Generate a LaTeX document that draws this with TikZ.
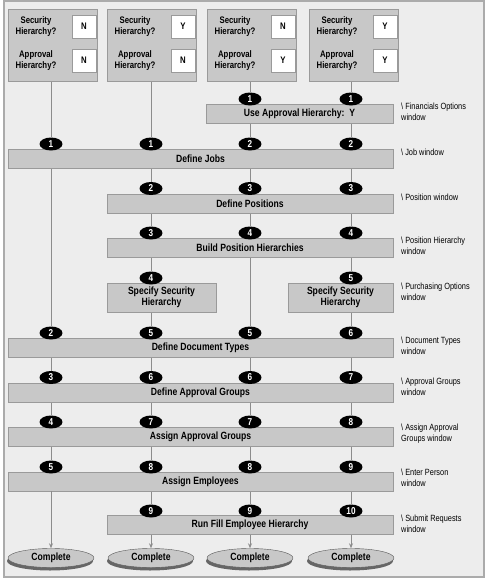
\documentclass[tikz,border=0pt]{standalone}
\usepackage{fontspec}
\setmainfont{Liberation Sans}[FakeStretch=0.82]
\usetikzlibrary{arrows.meta,backgrounds,shadows,shapes.geometric}
\definecolor{panel}{HTML}{EDEDED}
\definecolor{framegray}{HTML}{ABABAB}
\definecolor{boxfill}{HTML}{C8C8C8}
\definecolor{boxline}{HTML}{9A9A9A}
\definecolor{linkgray}{HTML}{8C8C8C}

\begin{document}
\begin{tikzpicture}[x=1pt, y=-1pt,
  qbox/.style={draw=boxline, fill=boxfill, minimum width=89pt, minimum height=72pt, inner sep=0pt},
  ansbox/.style={draw=boxline, fill=white, minimum width=24pt, minimum height=23pt, inner sep=0pt, font=\fontsize{9.5}{11}\selectfont\bfseries},
  qlabel/.style={align=center, inner sep=0pt, font=\fontsize{9.5}{11}\selectfont\bfseries},
  stepbox/.style={draw=boxline, fill=boxfill, minimum height=19pt, inner sep=0pt, align=center, font=\fontsize{10.5}{11.5}\selectfont\bfseries},
  badge/.style={ellipse, fill=black, minimum width=23pt, minimum height=13pt, inner sep=0pt, text=white, font=\fontsize{10}{10}\selectfont\bfseries},
  winlabel/.style={anchor=north west, align=left, inner sep=0pt, font=\fontsize{9}{11}\selectfont},
  done/.style={ellipse, draw=gray!70!black, fill=boxfill, minimum width=86pt, minimum height=19pt, inner sep=0pt,
    font=\fontsize{10.5}{12}\selectfont\bfseries, drop shadow={shadow xshift=-1pt, shadow yshift=-3pt, fill=black!60, opacity=1}},
  link/.style={draw=linkgray, line width=0.7pt}
]
  \useasboundingbox (0,0) rectangle (488,582);
  \begin{scope}[on background layer]
    \draw[framegray, fill=panel, line width=1.2pt] (4,1) rectangle (484,577);
  \end{scope}

  % question boxes
  \foreach \i/\cx/\sa/\aa in {1/53/N/N, 2/152/Y/N, 3/252/N/Y, 4/354/Y/Y}{
    \node[qbox] (q\i) at (\cx,45) {};
    \node[ansbox] (s\i) at (\cx+31,26.5) {\sa};
    \node[ansbox] (a\i) at (\cx+31,60.5) {\aa};
    \node[qlabel] (sl\i) at (\cx-17,26.5) {Security\\Hierarchy?};
    \node[qlabel] (al\i) at (\cx-17,60.5) {Approval\\Hierarchy?};
  }

  % steps
  \node[stepbox, minimum width=187pt] (uah) at (299.5,114) {Use Approval Hierarchy:~~Y};
  \node[stepbox, minimum width=385pt] (dj) at (200.5,159) {Define Jobs};
  \node[stepbox, minimum width=286pt] (dp) at (250,203.5) {Define Positions};
  \node[stepbox, minimum width=286pt] (bph) at (250,247.5) {Build Position Hierarchies};
  \node[stepbox, minimum width=109pt, minimum height=29pt] (ssl) at (161.5,297.5) {Specify Security\\Hierarchy};
  \node[stepbox, minimum width=105pt, minimum height=29pt] (ssr) at (340.5,297.5) {Specify Security\\Hierarchy};
  \node[stepbox, minimum width=385pt] (ddt) at (200.5,348) {Define Document Types};
  \node[stepbox, minimum width=385pt] (dag) at (200.5,392.5) {Define Approval Groups};
  \node[stepbox, minimum width=385pt] (aag) at (200.5,437) {Assign Approval Groups};
  \node[stepbox, minimum width=385pt] (ae) at (200.5,481.5) {Assign Employees};
  \node[stepbox, minimum width=286pt] (rf) at (250,525) {Run Fill Employee Hierarchy};

  % order badges
  \foreach \x/\c/\n in {250/3/1, 351/4/1} \node[badge] (uah\c) at (\x,99) {\n};
  \foreach \x/\c/\n in {51/1/1, 151/2/1, 250/3/2, 351/4/2} \node[badge] (dj\c) at (\x,144) {\n};
  \foreach \x/\c/\n in {151/2/2, 250/3/3, 351/4/3} \node[badge] (dp\c) at (\x,188.5) {\n};
  \foreach \x/\c/\n in {151/2/3, 250/3/4, 351/4/4} \node[badge] (bph\c) at (\x,233) {\n};
  \node[badge] (ssl2) at (151,278) {4};
  \node[badge] (ssr4) at (351,278) {5};
  \foreach \x/\c/\n in {51/1/2, 151/2/5, 250/3/5, 351/4/6} \node[badge] (ddt\c) at (\x,333) {\n};
  \foreach \x/\c/\n in {51/1/3, 151/2/6, 250/3/6, 351/4/7} \node[badge] (dag\c) at (\x,377.5) {\n};
  \foreach \x/\c/\n in {51/1/4, 151/2/7, 250/3/7, 351/4/8} \node[badge] (aag\c) at (\x,422) {\n};
  \foreach \x/\c/\n in {51/1/5, 151/2/8, 250/3/8, 351/4/9} \node[badge] (ae\c) at (\x,467) {\n};
  \foreach \x/\c/\n in {151/2/9, 250/3/9, 351/4/10} \node[badge] (rf\c) at (\x,511) {\n};

  % end states
  \foreach \x/\c in {51/1, 151/2, 250/3, 351/4} \node[done] (c\c) at (\x,558) {Complete};

  % window names
  \node[winlabel] (wuah) at (401,103) {\textbackslash{} Financials Options\\window};
  \node[winlabel] (wdj) at (401,149) {\textbackslash{} Job window};
  \node[winlabel] (wdp) at (401,194) {\textbackslash{} Position window};
  \node[winlabel] (wbph) at (401,237) {\textbackslash{} Position Hierarchy\\window};
  \node[winlabel] (wss) at (401,283) {\textbackslash{} Purchasing Options\\window};
  \node[winlabel] (wddt) at (401,337) {\textbackslash{} Document Types\\window};
  \node[winlabel] (wdag) at (401,378) {\textbackslash{} Approval Groups\\window};
  \node[winlabel] (waag) at (401,424) {\textbackslash{} Assign Approval\\Groups window};
  \node[winlabel] (wae) at (401,469) {\textbackslash{} Enter Person\\window};
  \node[winlabel] (wrf) at (401,515) {\textbackslash{} Submit Requests\\window};

  % column paths
  \begin{scope}[on background layer]
    \draw[link] (dj1 |- q1.south) -- (dj1) -- (ddt1) -- (dag1) -- (aag1) -- (ae1);
    \draw[link] (dj2 |- q2.south) -- (dj2) -- (dp2) -- (bph2) -- (ssl2) -- (ddt2) -- (dag2) -- (aag2) -- (ae2) -- (rf2);
    \draw[link] (uah3 |- q3.south) -- (uah3) -- (dj3) -- (dp3) -- (bph3) -- (ddt3) -- (dag3) -- (aag3) -- (ae3) -- (rf3);
    \draw[link] (uah4 |- q4.south) -- (uah4) -- (dj4) -- (dp4) -- (bph4) -- (ssr4) -- (ddt4) -- (dag4) -- (aag4) -- (ae4) -- (rf4);
  \end{scope}
  \draw[link, -{Stealth[length=5pt,width=4pt]}] (ae1 |- ae.south) -- (c1);
  \foreach \c in {2,3,4} \draw[link, -{Stealth[length=5pt,width=4pt]}] (rf\c |- rf.south) -- (c\c);
\end{tikzpicture}
\end{document}
